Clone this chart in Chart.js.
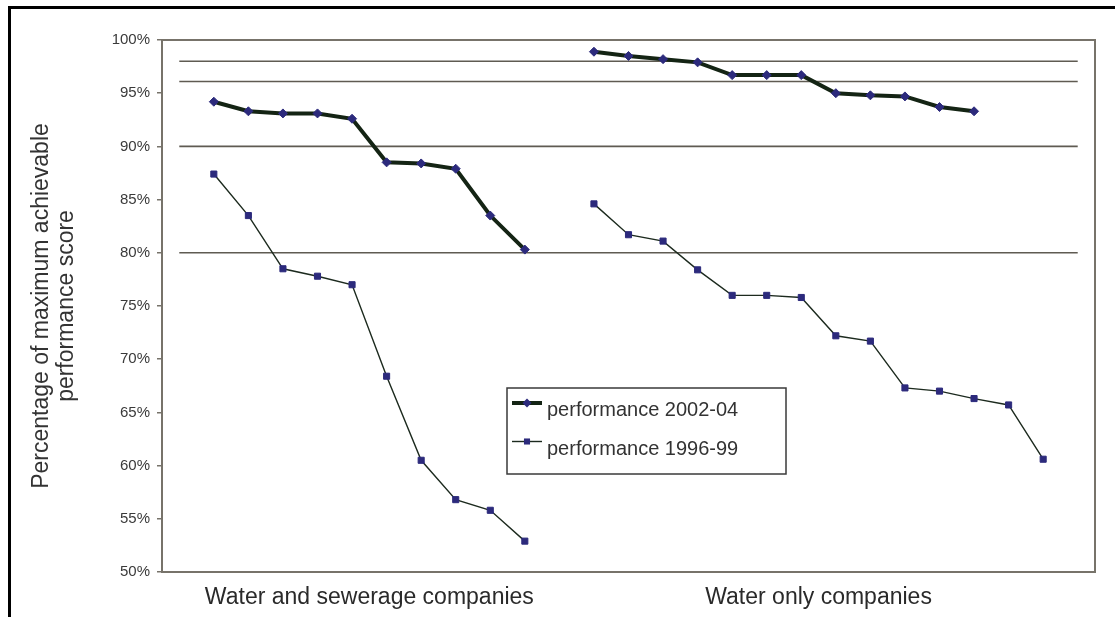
<!DOCTYPE html>
<html>
<head>
<meta charset="utf-8">
<script src="https://cdn.jsdelivr.net/npm/chart.js@4.4.1/dist/chart.umd.min.js"></script>
<style>
  html, body { margin: 0; padding: 0; background: #fff; overflow: hidden; }
  #frame {
    position: absolute; left: 8px; top: 6px; width: 1200px; height: 700px;
    border-top: 3px solid #000; border-left: 3px solid #000;
  }
  #chart { position: absolute; left: 0; top: 0; }
</style>
</head>
<body>
<div id="frame"></div>
<canvas id="chart" width="1115" height="617"></canvas>
<script>
// ── Data ──
const groupLabels  = ["Water and sewerage companies", "Water only companies"];
const groupCentres = [5.5, 18.5];          // category slot at the middle of each group
const wascStart = 1;                       // first slot of the sewerage group
const wocStart  = 12;                      // first slot of the water-only group
const lastSlot  = 26;

const wasc2002 = [94.2, 93.3, 93.1, 93.1, 92.6, 88.5, 88.4, 87.9, 83.5, 80.3];
const wasc1996 = [87.4, 83.5, 78.5, 77.8, 77.0, 68.4, 60.5, 56.8, 55.8, 52.9];
const woc2002  = [98.9, 98.5, 98.2, 97.9, 96.7, 96.7, 96.7, 95.0, 94.8, 94.7, 93.7, 93.3];
const woc1996  = [84.6, 81.7, 81.1, 78.4, 76.0, 76.0, 75.8, 72.2, 71.7, 67.3, 67.0, 66.3, 65.7, 60.6];

const refLevels = [98, 96.1, 90, 80];
const seriesNames = ["performance 2002-04", "performance 1996-99"];

// ── Helpers ──
function slots(start, values) {
  return values.map((v, i) => ({ x: start + i, y: v }));
}
function joinGroups(a, b) {
  return [...slots(wascStart, a), { x: wocStart - 1, y: null }, ...slots(wocStart, b)];
}

const FONT = "'Liberation Sans', Arial, sans-serif";
const AXIS_GREY = "#77736a";
const MARKER = "#2c2a7c";

const refDatasets = refLevels.map(v => ({
  label: "",
  data: [{ x: 0, y: v }, { x: lastSlot, y: v }],
  borderColor: "#5f5b52",
  borderWidth: 1.6,
  pointRadius: 0,
  fill: false,
}));

// ── Plugins ──
const plotFrame = {
  id: "plotFrame",
  beforeDatasetsDraw(chart) {
    const { ctx, chartArea: a } = chart;
    ctx.save();
    ctx.strokeStyle = AXIS_GREY;
    ctx.lineWidth = 2;
    ctx.strokeRect(a.left, a.top, a.right - a.left, a.bottom - a.top);
    ctx.restore();
  },
};

const boxLegend = {
  id: "boxLegend",
  afterDatasetsDraw(chart) {
    const ctx = chart.ctx;
    const box = { x: 507, y: 388, w: 279, h: 86 };
    ctx.save();
    ctx.fillStyle = "#fff";
    ctx.fillRect(box.x, box.y, box.w, box.h);
    ctx.strokeStyle = "#3a3a3a";
    ctx.lineWidth = 1.5;
    ctx.strokeRect(box.x, box.y, box.w, box.h);

    [0, 1].forEach((di, row) => {
      const ds = chart.data.datasets[di];
      const ly = 403 + row * 38.5;
      ctx.strokeStyle = ds.borderColor;
      ctx.lineWidth = ds.borderWidth;
      ctx.beginPath();
      ctx.moveTo(512, ly);
      ctx.lineTo(542, ly);
      ctx.stroke();

      ctx.fillStyle = MARKER;
      ctx.beginPath();
      if (ds.pointStyle === "rectRot") {
        const r = ds.pointRadius;
        ctx.moveTo(527, ly - r); ctx.lineTo(527 + r, ly);
        ctx.lineTo(527, ly + r); ctx.lineTo(527 - r, ly);
        ctx.closePath();
      } else {
        const s = ds.pointRadius * Math.SQRT1_2;
        ctx.rect(527 - s, ly - s, 2 * s, 2 * s);
      }
      ctx.fill();

      ctx.fillStyle = "#333";
      ctx.font = "20px " + FONT;
      ctx.textBaseline = "alphabetic";
      ctx.fillText(ds.label, 547, ly + 13);
    });
    ctx.restore();
  },
};

// ── Chart ──
new Chart(document.getElementById("chart"), {
  type: "line",
  data: {
    datasets: [
      {
        label: seriesNames[0],
        data: joinGroups(wasc2002, woc2002),
        borderColor: "#142414",
        borderWidth: 4,
        pointStyle: "rectRot",
        pointRadius: 4.5,
        pointBackgroundColor: MARKER,
        pointBorderColor: MARKER,
        pointBorderWidth: 1,
        spanGaps: false,
      },
      {
        label: seriesNames[1],
        data: joinGroups(wasc1996, woc1996),
        borderColor: "#1c2a1e",
        borderWidth: 1.4,
        pointStyle: "rect",
        pointRadius: 4.3,
        pointBackgroundColor: MARKER,
        pointBorderColor: MARKER,
        pointBorderWidth: 1,
        spanGaps: false,
      },
      ...refDatasets,
    ],
  },
  options: {
    responsive: false,
    animation: false,
    layout: { padding: { left: 29, top: 40, right: 20, bottom: 0 } },
    plugins: { legend: { display: false }, tooltip: { enabled: false } },
    scales: {
      x: {
        type: "linear",
        min: -0.5,
        max: lastSlot + 0.5,
        grid: { display: false },
        border: { display: false },
        afterBuildTicks(scale) {
          scale.ticks = groupCentres.map(v => ({ value: v }));
        },
        afterFit(scale) { scale.height = 45; },
        ticks: {
          padding: 4,
          color: "#2a2a2a",
          font: { family: FONT, size: 23 },
          maxRotation: 0,
          autoSkip: false,
          callback: v => groupLabels[groupCentres.indexOf(v)] || "",
        },
      },
      y: {
        min: 50,
        max: 100,
        afterFit(scale) { scale.width = 133; },
        grid: { drawOnChartArea: false, drawTicks: true, tickLength: 5, color: AXIS_GREY, lineWidth: 1.5 },
        border: { display: true, color: AXIS_GREY, width: 2 },
        ticks: {
          stepSize: 5,
          padding: 7,
          color: "#3a3a3a",
          font: { family: FONT, size: 15 },
          callback: v => v + "%",
        },
        title: {
          display: true,
          text: ["Percentage of maximum achievable", "performance score"],
          color: "#333",
          font: { family: FONT, size: 23, lineHeight: 1.1 },
          padding: 0,
        },
      },
    },
  },
  plugins: [plotFrame, boxLegend],
});
</script>
</body>
</html>
